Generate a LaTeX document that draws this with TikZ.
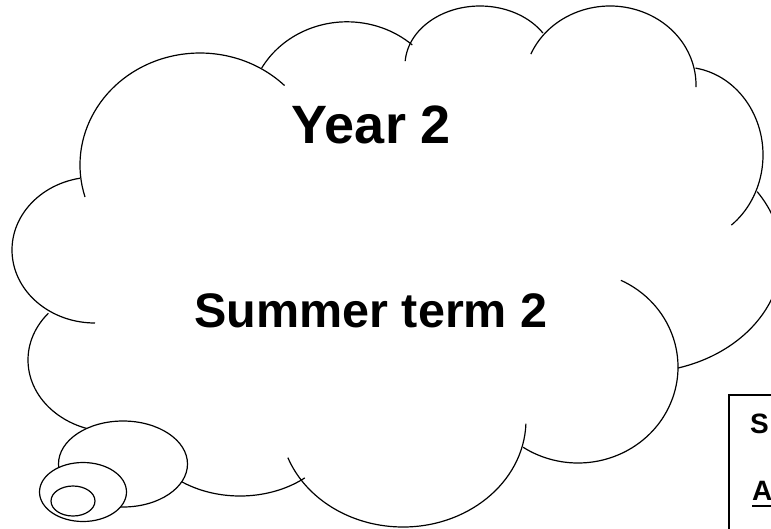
\documentclass[tikz,border=0pt]{standalone}
\usepackage{fontspec}
\setmainfont{Liberation Sans}
\usepackage{tikz}
\usetikzlibrary{calc}

\begin{document}
\begin{tikzpicture}[x=1pt, y=-1pt]
  \tikzset{
    puff/.style={draw, line width=1.2pt},
    bubble/.style={draw, fill=white, line width=1.2pt},
    bigtext/.style={inner sep=0pt, anchor=base, font=\bfseries\fontsize{54}{60}\selectfont},
    midtext/.style={inner sep=0pt, anchor=base, font=\bfseries\fontsize{48.5}{56}\selectfont},
    boxtext/.style={inner sep=0pt, anchor=base west, font=\bfseries\fontsize{28}{32}\selectfont},
    frame/.style={draw, line width=1.8pt},
    uline/.style={draw, line width=2pt},
  }
  \useasboundingbox (0,0) rectangle (771,528);
  \clip (0,0) rectangle (771,528);

  % cloud outline
  \draw[puff] (95,250) ++(259.5:83 and 73) arc[start angle=259.5, end angle=90, x radius=83, y radius=73];
  \draw[puff] (200,165) ++(163.4:120 and 112) arc[start angle=163.4, end angle=314.8, x radius=120, y radius=112];
  \draw[puff] (347,112.8) ++(209.5:98 and 91) arc[start angle=209.5, end angle=311.8, x radius=98, y radius=91];
  \draw[puff] (480,65.3) ++(184:75 and 59.3) arc[start angle=184, end angle=327, x radius=75, y radius=59.3];
  \draw[puff] (610,85) ++(203:86 and 79) arc[start angle=203, end angle=361.5, x radius=86, y radius=79];
  \draw[puff] (683,155) ++(279:80 and 88) arc[start angle=279, end angle=412.8, x radius=80, y radius=88];
  \draw[puff] (638.6,256.5) ++(326:143 and 116) arc[start angle=326, end angle=434, x radius=143, y radius=116];
  \draw[puff] (578,367) ++(295.4:100 and 96) arc[start angle=295.4, end angle=483.3, x radius=100, y radius=96];
  \draw[puff] (403,420) ++(2:123 and 107) arc[start angle=2, end angle=159.4, x radius=123, y radius=107];
  \draw[puff] (240,420) ++(49.6:100 and 76) arc[start angle=49.6, end angle=150, x radius=100, y radius=76];
  \draw[puff] (113,360) ++(220.5:85 and 72) arc[start angle=220.5, end angle=80, x radius=85, y radius=72];

  % thought bubbles
  \draw[bubble] (123,464) ellipse [x radius=64.5, y radius=43];
  \draw[bubble] (83,492) ellipse [x radius=43.5, y radius=29.5];
  \draw[bubble] (73,501) ellipse [x radius=22, y radius=15];

  \node[bigtext] (year) at (371.5,143) {Year 2};
  \node[midtext] (term) at (371,327) {Summer term 2};

  % text box, cut at the edge
  \draw[frame] (729,395) rectangle (820,560);
  \node[boxtext] (lineS) at (750,433) {S};
  \node[boxtext] (lineA) at (752,500) {A};
  \path[uline] ([yshift=-6pt]lineA.base west) -- ([yshift=-6pt]lineA.base east);
\end{tikzpicture}
\end{document}
